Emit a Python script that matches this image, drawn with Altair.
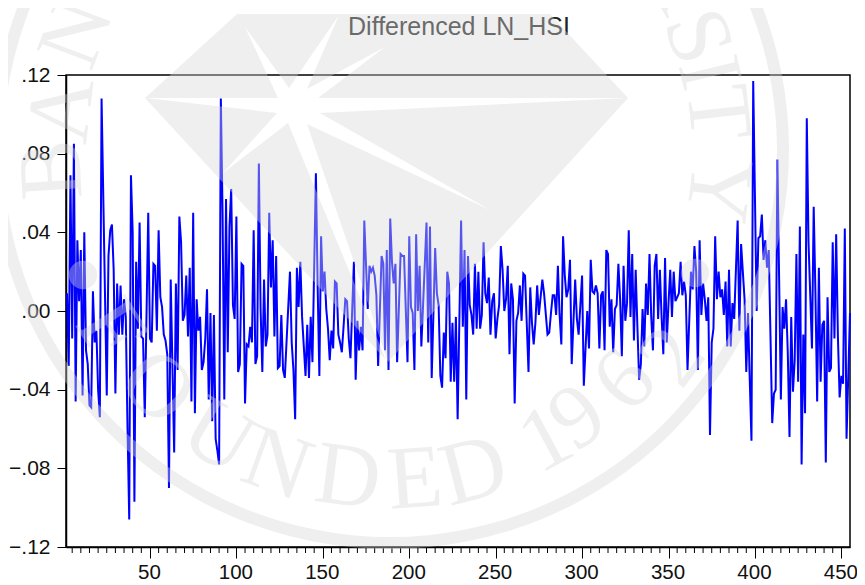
import math
import altair as alt
import pandas as pd

OBS_A = [2,3,4,5,6,7,8,9,10,11,12,13,14,15,16,17,18,19,20,21,22,25,26,27,28,29,30,31,32,33,34,35,36,37,38,39,40,41,42,43,44,45,46,47,49,50,51,52,53,54,55,56,57,58,59,60,61,62,64,65,66,67,68,69,70,71,72,73,74,75,76,77,78,79,80,81,82,83,84,85,86,87,88,89,90,91,92,93,94,95,96,97,98,99,100,101,102,103,104,105,106,107,108,109,110,111,112,113,114,115,116,117,118,119,120,121,122,123,124,125,126,127,128]
VAL_A = [.009,-.028,.069,-.014,.085,-.046,.036,.005,.031,-.043,.040,-.020,-.027,-.048,-.049,.010,-.016,-.010,-.040,-.054,.108,-.043,.028,.041,.044,.021,-.042,.014,-.012,.013,-.012,.006,-.003,-.059,-.106,.069,.040,-.097,.025,-.009,.045,-.013,-.014,-.054,.050,-.014,-.016,.024,.023,-.010,.041,.007,.002,-.012,-.015,-.022,-.090,.016,-.072,.014,-.030,.048,.035,-.005,-.002,.018,-.013,.022,-.046,.050,-.052,.006,-.010,-.003,-.030,-.026,-.014,.011,-.045,-.001,-.056,-.002,-.065,-.071,-.078,.108,.050,-.045,.057,-.021,.043,.062,.003,-.004,.048,-.031,-.027,.024,.023,-.047,-.017,-.018,-.008,-.016,.041,-.027,-.023,.075,.001,-.031,.016,-.018,-.012,.050,.012,.036,-.013,.028,-.029,-.028,-.002,-.030,-.034]
OBS_B = [131,132,133,134,135,136,137,138,140,141,142,143,144,146,147,148]
VAL_B = [.020,-.016,-.030,-.055,.022,.002,.025,-.003,-.033,-.007,-.034,-.003,-.026,.070,.013,-.033]
OBS_C = [149,150,151,152,153,154,155,156,157,158,159,160,161,162,163,164,165,166,168,169,170,171,172,173,174,176,177,178,179,180,181,182,184,185,186,187,188,189,190,191,192,193,195,196,197,199,200,201,202,203,204,205,206,207,210,211,212,213,215,216,217,218,219,220,221,222,223,224,225,226,227,228,230,231,232,233,234,235,236,237,238,239,240,241,242,243,244,245,246,247,248,249,250,251,252,253,254,255,256,257,258,259,260,261,262,263,264,265,266,267,269,270,271,272,273,274,275,277,278,280,281,282,283,284,285,286,287,288,289,290,291,292,293,294,296,297,298,300,301]
VAL_C = [.038,.010,.020,.001,-.009,-.025,-.010,-.019,.015,.014,-.012,-.016,-.021,-.008,.006,.005,-.014,-.024,.025,-.035,-.005,-.020,-.008,-.020,.046,.001,.023,.020,.022,.018,.008,-.028,.028,.024,-.020,.031,-.030,.047,.025,.014,.024,-.026,.029,.028,.028,-.026,.038,.002,-.001,-.030,.039,0,.023,-.018,.045,-.016,.043,-.034,.032,.009,.003,-.033,-.039,-.011,-.024,.020,.014,-.036,-.006,-.036,-.003,-.055,.046,-.008,.031,-.045,.028,.003,-.002,-.012,.024,-.009,.020,-.009,-.002,.035,.009,.004,.017,-.012,.005,.009,-.014,-.004,.003,.033,.021,0,.006,.023,-.022,.014,.006,-.047,-.005,-.001,.013,-.005,.019,.018,-.031,.012,-.006,-.017,-.006,.013,-.002,.016,.009,-.012,-.011,-.001,.008,.008,-.002,.023,-.002,-.017,.038,.018,.007,.011,.026,-.027,.016,-.004,-.012,.018,-.038]
OBS_D = list(range(303, 362)) + list(range(363, 389)) + list(range(390, 400)) + list(range(401, 432)) + list(range(433, 454)) + [455]
VAL_D = [0,-.019,.026,.010,.009,.013,.009,-.019,.008,.010,-.020,.031,.029,-.008,.006,-.021,.001,.003,.024,.006,-.023,.023,-.005,.004,.041,-.003,.029,-.015,.021,-.008,-.035,-.027,.001,-.018,.014,-.002,.029,-.003,-.020,.023,.029,-.004,.021,-.003,-.022,.027,-.016,.004,.021,-.003,.020,.005,.007,.009,.025,.008,.015,.008,-.030,.020,.011,.033,.020,-.030,.036,-.002,.014,.006,-.005,.007,-.063,-.016,-.009,.038,.006,.020,.007,.011,-.002,.015,-.018,.021,-.018,.004,-.004,.046,-.010,.034,.020,.006,-.031,-.001,-.035,-.066,.117,0,.037,.038,.049,.026,.036,.022,.031,-.013,-.057,-.042,-.040,.077,.016,-.045,.002,-.009,.006,-.021,-.064,-.003,-.041,-.025,.029,-.036,.043,-.078,-.012,-.052,.098,.035,-.019,.053,.009,-.046,.022,-.036,-.007,-.005,-.077,.007,-.031,-.029,.035,-.014,.039,-.013,-.044,-.033,-.037,.042,-.065,-.001]

series = pd.DataFrame({"obs": OBS_A + OBS_B + OBS_C + OBS_D, "value": VAL_A + VAL_B + VAL_C + VAL_D})

MAJOR_X = [50, 100, 150, 200, 250, 300, 350, 400, 450]
MINOR_X = [t for t in range(5, 455, 5) if t % 50]
Y_TICKS = [-.12, -.08, -.04, 0, .04, .08, .12]
X0, X1 = 1.42, 455.0
W, H = 784, 472
LEFT, TOP = 66, 75
FONT = "Liberation Sans"
SEAL = "#d7d7d7"
SEAL_OP = 0.4

def dx(px):
    return X0 + (px - LEFT) * (X1 - X0) / W
def dy(py):
    return .12 - (py - TOP) * .24 / H

x_scale = alt.Scale(domain=[X0, X1], nice=False, zero=False)
y_scale = alt.Scale(domain=[-.12, .12], nice=False, zero=False)
X = alt.X("x:Q", scale=x_scale, title=None)
Y = alt.Y("y:Q", scale=y_scale, title=None)

line = alt.Chart(series).mark_line(color="#0000ff", strokeWidth=2, clip=False).encode(
    x=alt.X("obs:Q", scale=x_scale, title=None,
            axis=alt.Axis(values=MAJOR_X, grid=False, tickSize=11, tickColor="black",
                          domainColor="black", domainWidth=1.5, labelFont=FONT,
                          labelFontSize=20.5, labelColor="#111111", labelPadding=4,
                          labelOffset=-1, labelOverlap=False, labelFlush=False)),
    y=alt.Y("value:Q", scale=y_scale, title=None,
            axis=alt.Axis(values=Y_TICKS, grid=False, tickSize=9, tickColor="black",
                          domainColor="black", domainWidth=1.5, labelFont=FONT,
                          labelFontSize=21, labelColor="#111111", labelPadding=7,
                          labelOverlap=False,
                          labelExpr="replace(format(datum.value, '.2f'), '0.', '.')")),
)

minor = alt.Chart(pd.DataFrame({"obs": MINOR_X})).mark_rule(color="black", strokeWidth=1).encode(
    x=alt.X("obs:Q", scale=x_scale, title=None), y=alt.value(H), y2=alt.value(H + 6))

title = alt.Chart(pd.DataFrame({"t": ["Differenced LN_HSI"]})).mark_text(
    font=FONT, fontSize=25, color="#222222", align="center", baseline="middle"
).encode(text="t:N", x=alt.value(459 - LEFT), y=alt.value(27 - TOP))

# watermark polygons (seal diamond with star-shaped cuts), read in picture position
POLYS = {
    "top": [(145,98),(237,14),(550,14),(628,98),(318,98),(385,47),(307,89),(339,15),(289,88),(245,27),(278,98)],
    "left": [(145,98),(277,113),(223,173),(288,123),(386,360),(388,362)],
    "right": [(628,98),(320,113),(490,210),(307,124),(388,362)],
}
rows = []
for k, pts in POLYS.items():
    for i, (a, b) in enumerate(pts + [pts[0]]):
        rows.append({"poly": k, "i": i, "x": dx(a), "y": dy(b)})
diamond = alt.Chart(pd.DataFrame(rows)).mark_line(
    fill=SEAL, fillOpacity=SEAL_OP, strokeOpacity=0, clip=False
).encode(x=X, y=Y, detail="poly:N", order="i:Q")

ring = alt.Chart(pd.DataFrame({"a": [0]})).mark_arc(
    fill=SEAL, fillOpacity=SEAL_OP, radius=399, radius2=387, theta=0, theta2=2 * math.pi
).encode(x=alt.value(390 - LEFT), y=alt.value(150 - TOP))

CX, CY = 390, 150
UPPER = [("B", 53, 170), ("A", 63, 110), ("N", 77, 33), ("R", 675, -21), ("S", 697, 37),
         ("I", 708, 73), ("T", 717, 113), ("Y", 717, 190)]
LOWER = [("F", 110, 330), ("O", 157, 388), ("U", 218, 437), ("N", 277, 465), ("D", 348, 478),
         ("E", 415, 480), ("D", 474, 472), ("1", 546, 440), ("9", 578, 418), ("6", 625, 381),
         ("2", 673, 357)]
letters = []
for ch, a, b in UPPER:
    letters.append({"c": ch, "x": dx(a), "y": dy(b),
                    "a": math.degrees(math.atan2(a - CX, CY - b)) % 360})
for ch, a, b in LOWER:
    letters.append({"c": ch, "x": dx(a), "y": dy(b),
                    "a": math.degrees(math.atan2(CX - a, b - CY)) % 360})
seal_text = alt.Chart(pd.DataFrame(letters)).mark_text(
    font="Liberation Serif", fontSize=90, fill=SEAL, fillOpacity=SEAL_OP,
    align="center", baseline="middle", clip=False
).encode(x=X, y=Y, text="c:N", angle=alt.Angle("a:Q", scale=None))

bullets = alt.Chart(pd.DataFrame({"x": [dx(83), dx(695)], "y": [dy(275), dy(273)]})).mark_circle(
    size=800, color=SEAL, opacity=SEAL_OP, clip=False
).encode(x=X, y=Y)

chart = alt.layer(minor, line, title, diamond, ring, seal_text, bullets).properties(
    width=W, height=H,
    autosize=alt.AutoSizeParams(type="none", contains="content"),
    padding={"left": LEFT - 8, "top": TOP - 8, "right": 7, "bottom": 38},
    background="white",
).configure_view(stroke="black", strokeWidth=1.5)

chart.save("out.html", embed_options={"renderer": "svg", "actions": False})
